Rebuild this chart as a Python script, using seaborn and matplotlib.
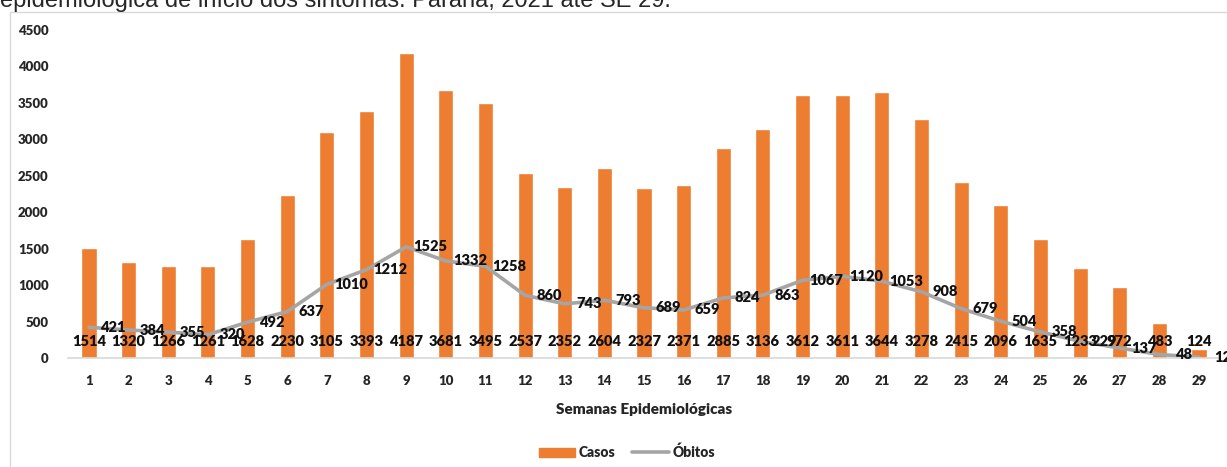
import numpy as np
import pandas as pd
import matplotlib.pyplot as plt
import seaborn as sns
from matplotlib.patches import Patch, Rectangle
from matplotlib.lines import Line2D

semanas = [str(i) for i in range(1, 30)]
casos = [1514, 1320, 1266, 1261, 1628, 2230, 3105, 3393, 4187, 3681, 3495, 2537, 2352, 2604, 2327,
         2371, 2885, 3136, 3612, 3611, 3644, 3278, 2415, 2096, 1635, 1233, 972, 483, 124]
obitos = [421, 384, 355, 320, 492, 637, 1010, 1212, 1525, 1332, 1258, 860, 743, 793, 689,
          659, 824, 863, 1067, 1120, 1053, 908, 679, 504, 358, 229, 137, 48, 12]
y_ticks = [0, 500, 1000, 1500, 2000, 2500, 3000, 3500, 4000, 4500]
titulo = "epidemiológica de início dos sintomas. Paraná, 2021 até SE 29."

df = pd.DataFrame({"Semana": semanas, "Casos": casos, "Obitos": obitos})

sns.set_style("white")
plt.rcParams["font.family"] = ["Lato", "DejaVu Sans"]

laranja = "#ED7D31"
cinza = "#A5A5A5"

fig = plt.figure(figsize=(12.27, 4.67), dpi=100)
ax = fig.add_axes([68 / 1227, 1 - 358 / 467, 1152 / 1227, 328 / 467])

sns.barplot(data=df, x="Semana", y="Casos", color=laranja, width=0.38, saturation=1, ax=ax)
sns.lineplot(x=np.arange(len(obitos)), y=obitos, color=cinza, linewidth=2.6, ax=ax)

# rotulos das barras (posicao "base interna")
for i, v in enumerate(casos):
    ax.text(i, 230, str(v), ha="center", va="center", fontsize=10.5, fontweight="heavy", color="#111111")

# rotulos da linha, a direita do ponto
for i, v in enumerate(obitos):
    ax.annotate(str(v), (i, v), xytext=(24, 0), textcoords="offset pixels",
                ha="center", va="center", fontsize=10.5, fontweight="heavy", color="#111111",
                annotation_clip=False)

ax.set_xlim(-0.53, 28.53)
ax.set_ylim(0, 4500)
ax.set_yticks(y_ticks)
ax.set_ylabel("")
ax.set_xlabel("Semanas Epidemiológicas", fontsize=11, fontweight="heavy", labelpad=12)
for s in ["top", "right", "left"]:
    ax.spines[s].set_visible(False)
ax.spines["bottom"].set_color("#D9D9D9")
ax.spines["bottom"].set_linewidth(1.2)
ax.tick_params(axis="both", length=0, labelsize=9.5)
ax.tick_params(axis="x", pad=12)
ax.tick_params(axis="y", pad=14)
for lbl in ax.get_xticklabels() + ax.get_yticklabels():
    lbl.set_fontweight("heavy")

# moldura do grafico
fig.add_artist(Rectangle((10 / 1227, -0.1), 1.2, 1 - 12 / 467 + 0.1, transform=fig.transFigure,
                         fill=False, edgecolor="#D9D9D9", linewidth=1))

fig.text(0, 1 - 7 / 467, titulo, fontsize=17, family=["Liberation Sans", "DejaVu Sans"], va="baseline")

handles = [Patch(color=laranja), Line2D([0], [0], color=cinza, linewidth=2.6)]
fig.legend(handles, ["Casos", "Óbitos"], loc="center", bbox_to_anchor=(627 / 1227, 1 - 452 / 467),
           ncol=2, frameon=False, prop={"weight": "heavy", "size": 10},
           handlelength=2.6, handletextpad=0.3, columnspacing=1.2)

fig.savefig("out.png", dpi=100)
